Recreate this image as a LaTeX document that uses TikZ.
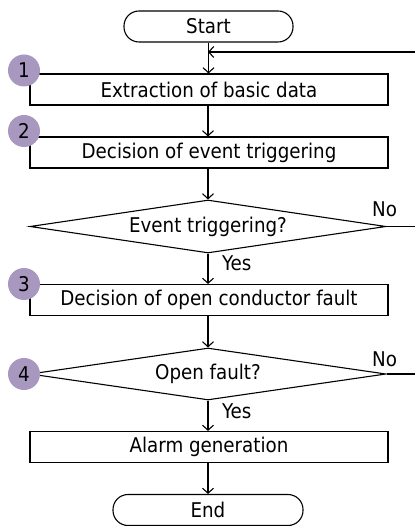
\documentclass[tikz,border=0pt]{standalone}
\usepackage{fontspec}
\setmainfont{DejaVu Sans Condensed}
\usetikzlibrary{shapes.geometric,arrows.meta}
\definecolor{stepfill}{RGB}{168,152,192}
\tikzset{
  every node/.style={font=\fontsize{20.3}{24}\selectfont, inner sep=0pt},
  procbox/.style={draw, line width=1.1pt, minimum width=358pt, minimum height=31pt},
  terminal/.style={draw, line width=1.1pt, rounded corners=15pt, minimum height=31pt},
  decision/.style={draw, line width=1.1pt, shape=diamond, aspect=6.7, minimum width=356pt},
  stepnum/.style={circle, fill=stepfill, minimum size=32pt},
  flow/.style={line width=1.1pt, -{Straight Barb[length=5pt,width=11pt,line width=1.1pt]}},
  plain/.style={line width=1.1pt},
  answer/.style={anchor=base west},
}
\begin{document}
\begin{tikzpicture}[x=1pt, y=-1pt]
  \useasboundingbox (0,0) rectangle (415,526);

  % main column
  \node[terminal, minimum width=169pt] (start) at (208.5,26.5) {Start};
  \node[procbox] (b1) at (209,89.5) {Extraction of basic data};
  \node[procbox] (b2) at (209,152.5) {Decision of event triggering};
  \node[decision, minimum height=53pt] (d1) at (208,226.5) {Event triggering?};
  \node[procbox] (b3) at (209,300) {Decision of open conductor fault};
  \node[decision, minimum height=52pt] (d2) at (208,374) {Open fault?};
  \node[procbox] (b4) at (209,447) {Alarm generation};
  \node[terminal, minimum width=190pt] (end) at (208,510) {End};

  % numbered step markers
  \node[stepnum] (n1) at (24,70.5) {1};
  \node[stepnum] (n2) at (24,131) {2};
  \node[stepnum] (n3) at (24,284) {3};
  \node[stepnum] (n4) at (24,374) {4};

  % loop-back entry and exits on the right
  \coordinate (ret) at (415,52);
  \coordinate (x1) at (415,226.5);
  \coordinate (x2) at (415,374);
  \coordinate (join) at (208,52);

  % connectors
  \draw[flow] (start.south) -- (b1.north -| start.south);
  \draw[flow] (ret) -- (join);
  \draw[flow] (b1.south -| d1.north) -- (b2.north -| d1.north);
  \draw[flow] (b2.south -| d1.north) -- (d1.north);
  \draw[flow] (d1.south) -- (b3.north -| d1.south);
  \draw[flow] (b3.south -| d2.north) -- (d2.north);
  \draw[flow] (d2.south) -- (b4.north -| d2.south);
  \draw[flow] (b4.south -| end.north) -- (end.north);
  \draw[plain] (d1.east) -- (x1);
  \draw[plain] (d2.east) -- (x2);

  % branch labels
  \node[answer] (no1) at (372,217) {No};
  \node[answer] (no2) at (372,366) {No};
  \node[answer] (yes1) at (222,270) {Yes};
  \node[answer] (yes2) at (222,418) {Yes};
\end{tikzpicture}
\end{document}
